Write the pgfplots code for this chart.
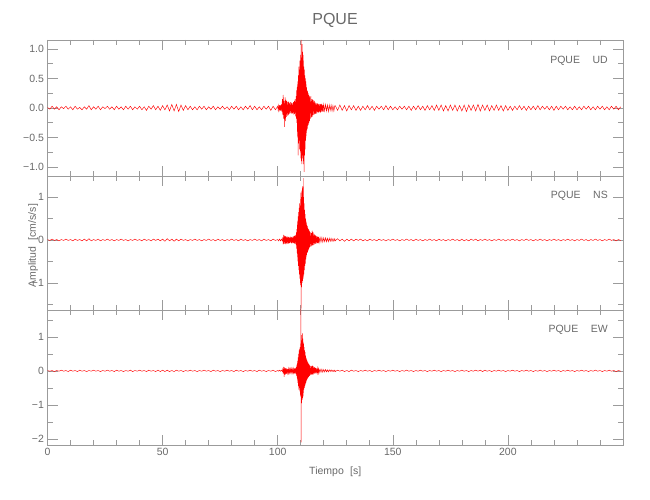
\documentclass[border=0pt]{standalone}
\usepackage{fontspec}
\setmainfont{Liberation Sans}
\usepackage{pgfplots}
\pgfplotsset{compat=1.18}
\definecolor{axgray}{RGB}{155,155,155}
\definecolor{txtgray}{RGB}{105,105,105}
\pgfplotsset{
  seis/.style={
    scale only axis, width=575.5pt, xmin=0, xmax=250,
    anchor=south west,
    axis line style={axgray, line width=0.6pt},
    tick style={axgray, line width=0.6pt},
    tick align=inside, tick pos=both,
    major tick length=10pt, minor tick length=5pt,
    xtick={0,50,...,200}, minor xtick={10,20,...,240},
    /pgf/number format/assume math mode=true,
    tick label style={font=\fontsize{10.5}{12}\selectfont, text=txtgray},
    label style={font=\fontsize{10.5}{12}\selectfont, text=txtgray},
    clip=true,
  },
  trace/.style={red, line width=0.45pt, mark=none},
}
\begin{document}
\begin{tikzpicture}
\useasboundingbox (-47.5pt,-55pt) rectangle (602.5pt,445pt);
\node[text=txtgray, font=\fontsize{16}{18}\selectfont] at (287.5pt,425pt) {PQUE};
% ---------- UD ----------
\begin{axis}[seis, at={(0pt,269pt)}, height=136pt,
  ymin=-1.15, ymax=1.15,
  ytick={-1,-0.5,0,0.5,1}, yticklabels={−1.0,−0.5,0.0,0.5,1.0},
  minor ytick={-0.75,-0.25,0.25,0.75},
  xticklabels={}]
\addplot[trace] table[row sep=\\]{x y\\
0 0.01\\ 1 -0.02\\ 2 0.03\\ 3 -0.02\\ 4 0.02\\ 5 -0.03\\ 6 0.02\\ 7 -0.01\\ 8 0.03\\ 9 -0.02\\
10 0.02\\ 11 -0.03\\ 12 0.03\\ 13 -0.02\\ 14 0.01\\ 15 -0.03\\ 16 0.02\\ 17 -0.02\\ 18 0.04\\ 19 -0.03\\
20 0.02\\ 21 -0.02\\ 22 0.03\\ 23 -0.03\\ 24 0.02\\ 25 -0.01\\ 26 0.03\\ 27 -0.02\\ 28 0.02\\ 29 -0.03\\
30 0.03\\ 31 -0.02\\ 32 0.02\\ 33 -0.03\\ 34 0.03\\ 35 -0.02\\ 36 0.03\\ 37 -0.03\\ 38 0.02\\ 39 -0.02\\
40 0.03\\ 41 -0.03\\ 42 0.02\\ 43 -0.04\\ 44 0.03\\ 45 -0.02\\ 46 0.04\\ 47 -0.03\\ 48 0.03\\ 49 -0.04\\
50 0.04\\ 51 -0.03\\ 52 0.05\\ 53 -0.05\\ 54 0.06\\ 55 -0.05\\ 56 0.06\\ 57 -0.06\\ 58 0.05\\ 59 -0.04\\
60 0.04\\ 61 -0.03\\ 62 0.03\\ 63 -0.03\\ 64 0.02\\ 65 -0.03\\ 66 0.03\\ 67 -0.02\\ 68 0.03\\ 69 -0.03\\
70 0.02\\ 71 -0.02\\ 72 0.03\\ 73 -0.03\\ 74 0.02\\ 75 -0.02\\ 76 0.03\\ 77 -0.02\\ 78 0.02\\ 79 -0.03\\
80 0.03\\ 81 -0.02\\ 82 0.03\\ 83 -0.03\\ 84 0.02\\ 85 -0.03\\ 86 0.03\\ 87 -0.02\\ 88 0.04\\ 89 -0.03\\
90 0.03\\ 91 -0.03\\ 92 0.02\\ 93 -0.03\\ 94 0.03\\ 95 -0.02\\ 96 0.03\\ 97 -0.04\\ 98 0.03\\ 99 -0.03\\
100.0 0.03\\ 100.2 -0.04\\ 100.4 0.04\\ 100.6 -0.03\\ 100.8 0.05\\ 101.0 -0.04\\ 101.2 0.05\\ 101.4 -0.05\\ 101.6 0.06\\ 101.8 -0.06\\
102.0 0.15\\ 102.2 -0.12\\ 102.4 0.22\\ 102.6 -0.18\\ 102.8 0.12\\ 103.0 -0.32\\ 103.2 0.18\\ 103.4 -0.22\\ 103.6 0.14\\ 103.8 -0.15\\
104.0 0.12\\ 104.2 -0.13\\ 104.4 0.10\\ 104.6 -0.12\\ 104.8 0.11\\ 105.0 -0.10\\ 105.2 0.08\\ 105.4 -0.09\\ 105.6 0.10\\ 105.8 -0.08\\
106.0 0.09\\ 106.2 -0.10\\ 106.4 0.08\\ 106.6 -0.09\\ 106.8 0.10\\ 107.0 -0.11\\ 107.2 0.12\\ 107.4 -0.10\\ 107.6 0.15\\ 107.8 -0.14\\
108.0 0.20\\ 108.1 -0.18\\ 108.2 0.30\\ 108.3 -0.25\\ 108.4 0.35\\ 108.5 -0.40\\ 108.6 0.45\\ 108.7 -0.50\\ 108.8 0.40\\ 108.9 -0.80\\
109.0 0.55\\ 109.1 -0.60\\ 109.2 0.70\\ 109.3 -0.55\\ 109.4 0.65\\ 109.5 -0.70\\ 109.6 0.80\\ 109.7 -0.65\\ 109.8 0.75\\ 109.9 -0.85\\
110.0 0.90\\ 110.1 -0.75\\ 110.2 1.15\\ 110.3 -0.90\\ 110.4 0.85\\ 110.5 -0.95\\ 110.6 1.08\\ 110.7 -0.80\\ 110.8 0.95\\ 110.9 -0.85\\
111.0 0.90\\ 111.1 -0.95\\ 111.2 0.80\\ 111.3 -0.90\\ 111.4 0.70\\ 111.5 -1.08\\ 111.6 0.65\\ 111.7 -0.80\\ 111.8 0.55\\ 111.9 -0.70\\
112.0 0.50\\ 112.1 -0.55\\ 112.2 0.45\\ 112.3 -0.50\\ 112.4 0.40\\ 112.5 -0.42\\ 112.6 0.35\\ 112.7 -0.38\\ 112.8 0.30\\ 112.9 -0.35\\
113.0 0.28\\ 113.1 -0.30\\ 113.2 0.25\\ 113.3 -0.28\\ 113.4 0.22\\ 113.5 -0.25\\ 113.6 0.22\\ 113.7 -0.20\\ 113.8 0.20\\ 113.9 -0.22\\
114.0 0.18\\ 114.2 -0.18\\ 114.4 0.20\\ 114.6 -0.16\\ 114.8 0.15\\ 115.0 -0.15\\ 115.2 0.14\\ 115.4 -0.12\\ 115.6 0.13\\ 115.8 -0.11\\
116.0 0.12\\ 116.2 -0.10\\ 116.4 0.09\\ 116.6 -0.10\\ 116.8 0.08\\ 117.0 -0.09\\ 117.2 0.08\\ 117.4 -0.07\\ 117.6 0.07\\ 117.8 -0.08\\
118.0 0.07\\ 118.2 -0.07\\ 118.4 0.06\\ 118.6 -0.08\\ 118.8 0.07\\ 119.0 -0.06\\ 119.2 0.07\\ 119.4 -0.06\\ 119.6 0.05\\ 119.8 -0.06\\
120.0 0.06\\ 120.4 -0.05\\ 120.8 0.06\\ 121.2 -0.05\\ 121.6 0.05\\ 122.0 -0.06\\ 122.4 0.05\\ 122.8 -0.04\\ 123.2 0.05\\ 123.6 -0.05\\
124.0 0.04\\ 124.4 -0.05\\ 124.8 0.04\\
125 0.04\\ 126 -0.04\\ 127 0.05\\ 128 -0.04\\ 129 0.04\\ 130 -0.05\\ 131 0.04\\ 132 -0.03\\ 133 0.04\\ 134 -0.04\\
135 0.03\\ 136 -0.04\\ 137 0.03\\ 138 -0.03\\ 139 0.04\\ 140 -0.03\\ 141 0.03\\ 142 -0.04\\ 143 0.03\\ 144 -0.02\\
145 0.03\\ 146 -0.03\\ 147 0.04\\ 148 -0.03\\ 149 0.03\\ 150 -0.03\\ 151 0.02\\ 152 -0.03\\ 153 0.03\\ 154 -0.02\\
155 0.03\\ 156 -0.03\\ 157 0.03\\ 158 -0.04\\ 159 0.03\\ 160 -0.03\\ 161 0.04\\ 162 -0.03\\ 163 0.03\\ 164 -0.04\\
165 0.04\\ 166 -0.03\\ 167 0.04\\ 168 -0.04\\ 169 0.05\\ 170 -0.04\\ 171 0.05\\ 172 -0.05\\ 173 0.04\\ 174 -0.05\\
175 0.05\\ 176 -0.04\\ 177 0.05\\ 178 -0.05\\ 179 0.04\\ 180 -0.05\\ 181 0.05\\ 182 -0.06\\ 183 0.05\\ 184 -0.04\\
185 0.05\\ 186 -0.05\\ 187 0.06\\ 188 -0.05\\ 189 0.05\\ 190 -0.04\\ 191 0.05\\ 192 -0.05\\ 193 0.04\\ 194 -0.04\\
195 0.05\\ 196 -0.04\\ 197 0.04\\ 198 -0.05\\ 199 0.04\\ 200 -0.04\\ 201 0.03\\ 202 -0.04\\ 203 0.03\\ 204 -0.03\\
205 0.04\\ 206 -0.03\\ 207 0.03\\ 208 -0.04\\ 209 0.03\\ 210 -0.03\\ 211 0.03\\ 212 -0.03\\ 213 0.04\\ 214 -0.03\\
215 0.03\\ 216 -0.02\\ 217 0.03\\ 218 -0.03\\ 219 0.03\\ 220 -0.04\\ 221 0.03\\ 222 -0.03\\ 223 0.03\\ 224 -0.02\\
225 0.03\\ 226 -0.03\\ 227 0.02\\ 228 -0.03\\ 229 0.03\\ 230 -0.03\\ 231 0.02\\ 232 -0.03\\ 233 0.03\\ 234 -0.02\\
235 0.03\\ 236 -0.03\\ 237 0.02\\ 238 -0.03\\ 239 0.03\\ 240 -0.02\\ 241 0.03\\ 242 -0.03\\ 243 0.02\\ 244 -0.03\\
245 0.03\\ 246 -0.02\\ 247 0.03\\ 248 -0.03\\ 249 0.02\\
};
\node[anchor=east, inner sep=0pt, text=txtgray, font=\fontsize{10.5}{12}\selectfont] at (rel axis cs:0.974,0.85) {PQUE\hspace{1.2em}UD};
\end{axis}
% ---------- NS ----------
\begin{axis}[seis, at={(0pt,135pt)}, height=134pt,
  ymin=-1.63, ymax=1.49,
  ytick={-1,0,1}, yticklabels={−1,0,1},
  minor ytick={-1.5,-0.5,0.5},
  xticklabels={},
  ylabel={Amplitud\hspace{0.6em}[cm/s/s]},
  ylabel style={at={(axis description cs:-0.025,0.48)}, anchor=center}]
\addplot[trace] table[row sep=\\]{x y\\
0 0.01\\ 1 -0.01\\ 2 0.02\\ 3 -0.01\\ 4 0.01\\ 5 -0.02\\ 6 0.01\\ 7 -0.01\\ 8 0.02\\ 9 -0.01\\
10 0.01\\ 11 -0.02\\ 12 0.02\\ 13 -0.01\\ 14 0.01\\ 15 -0.02\\ 16 0.02\\ 17 -0.02\\ 18 0.03\\ 19 -0.02\\
20 0.01\\ 21 -0.01\\ 22 0.02\\ 23 -0.02\\ 24 0.01\\ 25 -0.01\\ 26 0.02\\ 27 -0.01\\ 28 0.01\\ 29 -0.02\\
30 0.01\\ 31 -0.01\\ 32 0.02\\ 33 -0.01\\ 34 0.01\\ 35 -0.02\\ 36 0.01\\ 37 -0.01\\ 38 0.02\\ 39 -0.01\\
40 0.01\\ 41 -0.02\\ 42 0.02\\ 43 -0.01\\ 44 0.01\\ 45 -0.02\\ 46 0.02\\ 47 -0.01\\ 48 0.02\\ 49 -0.02\\
50 0.02\\ 51 -0.03\\ 52 0.03\\ 53 -0.02\\ 54 0.02\\ 55 -0.03\\ 56 0.02\\ 57 -0.02\\ 58 0.02\\ 59 -0.01\\
60 0.01\\ 61 -0.02\\ 62 0.01\\ 63 -0.01\\ 64 0.02\\ 65 -0.01\\ 66 0.01\\ 67 -0.02\\ 68 0.01\\ 69 -0.01\\
70 0.02\\ 71 -0.01\\ 72 0.01\\ 73 -0.02\\ 74 0.02\\ 75 -0.01\\ 76 0.01\\ 77 -0.02\\ 78 0.01\\ 79 -0.01\\
80 0.02\\ 81 -0.01\\ 82 0.01\\ 83 -0.02\\ 84 0.02\\ 85 -0.01\\ 86 0.01\\ 87 -0.02\\ 88 0.01\\ 89 -0.01\\
90 0.02\\ 91 -0.01\\ 92 0.01\\ 93 -0.02\\ 94 0.02\\ 95 -0.01\\ 96 0.01\\ 97 -0.02\\ 98 0.02\\ 99 -0.01\\
100.0 0.01\\ 100.4 -0.02\\ 100.8 0.02\\ 101.2 -0.02\\ 101.6 0.02\\ 102.0 -0.02\\ 102.2 0.06\\ 102.4 -0.10\\ 102.6 0.12\\ 102.8 -0.09\\
103.0 0.10\\ 103.2 -0.08\\ 103.4 0.09\\ 103.6 -0.10\\ 103.8 0.08\\ 104.0 -0.07\\ 104.2 0.08\\ 104.4 -0.09\\ 104.6 0.07\\ 104.8 -0.08\\
105.0 0.06\\ 105.2 -0.07\\ 105.4 0.08\\ 105.6 -0.06\\ 105.8 0.07\\ 106.0 -0.08\\ 106.2 0.06\\ 106.4 -0.07\\ 106.6 0.08\\ 106.8 -0.07\\
107.0 0.09\\ 107.2 -0.08\\ 107.4 0.10\\ 107.6 -0.09\\ 107.8 0.12\\ 108.0 -0.12\\
108.1 0.18\\ 108.2 -0.20\\ 108.3 0.25\\ 108.4 -0.30\\ 108.5 0.35\\ 108.6 -0.40\\ 108.7 0.45\\ 108.8 -0.50\\ 108.9 0.55\\ 109.0 -0.60\\
109.1 0.65\\ 109.2 -0.70\\ 109.3 0.75\\ 109.4 -0.80\\ 109.5 0.85\\ 109.6 -0.90\\ 109.7 0.80\\ 109.8 -1.00\\ 109.9 0.95\\ 110.0 -1.05\\
110.1 1.10\\ 110.2 -1.60\\ 110.3 1.00\\ 110.4 -1.10\\ 110.5 1.15\\ 110.6 -1.00\\ 110.7 1.25\\ 110.8 -0.95\\ 110.9 1.20\\ 111.0 -0.90\\
111.1 1.44\\ 111.2 -0.85\\ 111.3 1.00\\ 111.4 -0.80\\ 111.5 0.85\\ 111.6 -0.70\\ 111.7 0.70\\ 111.8 -0.60\\ 111.9 0.60\\ 112.0 -0.55\\
112.1 0.50\\ 112.2 -0.45\\ 112.3 0.45\\ 112.4 -0.40\\ 112.5 0.40\\ 112.6 -0.35\\ 112.7 0.35\\ 112.8 -0.30\\ 112.9 0.32\\ 113.0 -0.28\\
113.1 0.28\\ 113.2 -0.25\\ 113.3 0.25\\ 113.4 -0.22\\ 113.5 0.24\\ 113.6 -0.20\\ 113.7 0.22\\ 113.8 -0.18\\ 113.9 0.20\\ 114.0 -0.16\\
114.2 0.18\\ 114.4 -0.15\\ 114.6 0.16\\ 114.8 -0.14\\ 115.0 0.22\\ 115.2 -0.12\\ 115.4 0.18\\ 115.6 -0.12\\ 115.8 0.14\\ 116.0 -0.10\\
116.2 0.12\\ 116.4 -0.09\\ 116.6 0.10\\ 116.8 -0.08\\ 117.0 0.09\\ 117.2 -0.07\\ 117.4 0.08\\ 117.6 -0.07\\ 117.8 0.07\\ 118.0 -0.06\\
118.4 0.06\\ 118.8 -0.05\\ 119.2 0.06\\ 119.6 -0.05\\ 120.0 0.05\\ 120.4 -0.04\\ 120.8 0.05\\ 121.2 -0.04\\ 121.6 0.04\\ 122.0 -0.04\\
122.4 0.04\\ 122.8 -0.03\\ 123.2 0.04\\ 123.6 -0.03\\ 124.0 0.03\\ 124.4 -0.03\\ 124.8 0.03\\
125 -0.02\\ 126 0.03\\ 127 -0.02\\ 128 0.02\\ 129 -0.03\\ 130 0.02\\ 131 -0.02\\ 132 0.02\\ 133 -0.02\\ 134 0.02\\
135 -0.01\\ 136 0.02\\ 137 -0.02\\ 138 0.01\\ 139 -0.02\\ 140 0.02\\ 141 -0.01\\ 142 0.01\\ 143 -0.02\\ 144 0.02\\
145 -0.01\\ 146 0.01\\ 147 -0.02\\ 148 0.01\\ 149 -0.01\\ 150 0.02\\ 151 -0.01\\ 152 0.01\\ 153 -0.02\\ 154 0.01\\
155 -0.01\\ 156 0.02\\ 157 -0.01\\ 158 0.01\\ 159 -0.02\\ 160 0.02\\ 161 -0.01\\ 162 0.01\\ 163 -0.02\\ 164 0.01\\
165 -0.01\\ 166 0.02\\ 167 -0.01\\ 168 0.01\\ 169 -0.02\\ 170 0.02\\ 171 -0.01\\ 172 0.01\\ 173 -0.02\\ 174 0.01\\
175 -0.01\\ 176 0.02\\ 177 -0.01\\ 178 0.01\\ 179 -0.02\\ 180 0.02\\ 181 -0.02\\ 182 0.01\\ 183 -0.02\\ 184 0.02\\
185 -0.01\\ 186 0.02\\ 187 -0.02\\ 188 0.01\\ 189 -0.01\\ 190 0.02\\ 191 -0.01\\ 192 0.01\\ 193 -0.02\\ 194 0.01\\
195 -0.01\\ 196 0.02\\ 197 -0.01\\ 198 0.01\\ 199 -0.02\\ 200 0.01\\ 201 -0.01\\ 202 0.02\\ 203 -0.01\\ 204 0.01\\
205 -0.02\\ 206 0.01\\ 207 -0.01\\ 208 0.02\\ 209 -0.01\\ 210 0.01\\ 211 -0.02\\ 212 0.01\\ 213 -0.01\\ 214 0.02\\
215 -0.01\\ 216 0.01\\ 217 -0.02\\ 218 0.01\\ 219 -0.01\\ 220 0.02\\ 221 -0.01\\ 222 0.01\\ 223 -0.02\\ 224 0.01\\
225 -0.01\\ 226 0.02\\ 227 -0.01\\ 228 0.01\\ 229 -0.02\\ 230 0.01\\ 231 -0.01\\ 232 0.02\\ 233 -0.01\\ 234 0.01\\
235 -0.02\\ 236 0.01\\ 237 -0.01\\ 238 0.02\\ 239 -0.01\\ 240 0.01\\ 241 -0.02\\ 242 0.01\\ 243 -0.01\\ 244 0.02\\
245 -0.01\\ 246 0.01\\ 247 -0.02\\ 248 0.01\\ 249 -0.01\\
};
\node[anchor=east, inner sep=0pt, text=txtgray, font=\fontsize{10.5}{12}\selectfont] at (rel axis cs:0.974,0.85) {PQUE\hspace{1.2em}NS};
\end{axis}
% ---------- EW ----------
\begin{axis}[seis, at={(0pt,0pt)}, height=135pt,
  ymin=-2.18, ymax=1.79,
  ytick={-2,-1,0,1}, yticklabels={−2,−1,0,1},
  minor ytick={-1.5,-0.5,0.5,1.5},
  xticklabels={0,50,100,150,200},
  xlabel={Tiempo\hspace{0.6em}[s]},
  xlabel style={at={(axis description cs:0.5,0)}, anchor=center, yshift=-27pt}]
\addplot[trace] table[row sep=\\]{x y\\
0 0.01\\ 1 -0.01\\ 2 0.01\\ 3 -0.02\\ 4 0.01\\ 5 -0.01\\ 6 0.02\\ 7 -0.01\\ 8 0.01\\ 9 -0.02\\
10 0.02\\ 11 -0.01\\ 12 0.01\\ 13 -0.02\\ 14 0.02\\ 15 -0.01\\ 16 0.01\\ 17 -0.02\\ 18 0.01\\ 19 -0.01\\
20 0.02\\ 21 -0.01\\ 22 0.01\\ 23 -0.02\\ 24 0.01\\ 25 -0.01\\ 26 0.02\\ 27 -0.01\\ 28 0.01\\ 29 -0.02\\
30 0.02\\ 31 -0.01\\ 32 0.01\\ 33 -0.02\\ 34 0.01\\ 35 -0.01\\ 36 0.02\\ 37 -0.02\\ 38 0.01\\ 39 -0.01\\
40 0.02\\ 41 -0.01\\ 42 0.01\\ 43 -0.02\\ 44 0.02\\ 45 -0.01\\ 46 0.01\\ 47 -0.02\\ 48 0.02\\ 49 -0.02\\
50 0.02\\ 51 -0.02\\ 52 0.02\\ 53 -0.02\\ 54 0.01\\ 55 -0.02\\ 56 0.02\\ 57 -0.01\\ 58 0.01\\ 59 -0.02\\
60 0.01\\ 61 -0.01\\ 62 0.02\\ 63 -0.01\\ 64 0.01\\ 65 -0.02\\ 66 0.01\\ 67 -0.01\\ 68 0.02\\ 69 -0.01\\
70 0.01\\ 71 -0.02\\ 72 0.02\\ 73 -0.01\\ 74 0.01\\ 75 -0.02\\ 76 0.01\\ 77 -0.01\\ 78 0.02\\ 79 -0.01\\
80 0.01\\ 81 -0.02\\ 82 0.02\\ 83 -0.01\\ 84 0.01\\ 85 -0.02\\ 86 0.01\\ 87 -0.01\\ 88 0.02\\ 89 -0.01\\
90 0.01\\ 91 -0.02\\ 92 0.02\\ 93 -0.01\\ 94 0.01\\ 95 -0.02\\ 96 0.01\\ 97 -0.01\\ 98 0.02\\ 99 -0.02\\
100.0 0.01\\ 100.4 -0.01\\ 100.8 0.02\\ 101.2 -0.01\\ 101.6 0.02\\ 102.0 -0.02\\ 102.2 0.05\\ 102.4 -0.08\\ 102.6 0.12\\ 102.8 -0.18\\
103.0 0.10\\ 103.2 -0.12\\ 103.4 0.08\\ 103.6 -0.09\\ 103.8 0.07\\ 104.0 -0.08\\ 104.2 0.06\\ 104.4 -0.07\\ 104.6 0.06\\ 104.8 -0.06\\
105.0 0.05\\ 105.2 -0.06\\ 105.4 0.05\\ 105.6 -0.05\\ 105.8 0.06\\ 106.0 -0.05\\ 106.2 0.05\\ 106.4 -0.06\\ 106.6 0.05\\ 106.8 -0.06\\
107.0 0.06\\ 107.2 -0.07\\ 107.4 0.07\\ 107.6 -0.08\\ 107.8 0.09\\ 108.0 -0.10\\
108.1 0.12\\ 108.2 -0.15\\ 108.3 0.18\\ 108.4 -0.20\\ 108.5 0.22\\ 108.6 -0.28\\ 108.7 0.30\\ 108.8 -0.35\\ 108.9 0.40\\ 109.0 -0.45\\
109.1 0.50\\ 109.2 -0.55\\ 109.3 0.60\\ 109.4 -0.50\\ 109.5 0.65\\ 109.6 -0.60\\ 109.7 0.70\\ 109.8 -0.75\\ 109.9 0.80\\ 110.0 -0.70\\
110.1 1.90\\ 110.2 -2.10\\ 110.3 0.90\\ 110.4 -0.95\\ 110.5 1.05\\ 110.6 -0.85\\ 110.7 1.10\\ 110.8 -0.80\\ 110.9 0.95\\ 111.0 -0.75\\
111.1 0.85\\ 111.2 -0.65\\ 111.3 0.80\\ 111.4 -0.55\\ 111.5 0.70\\ 111.6 -0.50\\ 111.7 0.60\\ 111.8 -0.45\\ 111.9 0.55\\ 112.0 -0.40\\
112.1 0.45\\ 112.2 -0.35\\ 112.3 0.40\\ 112.4 -0.32\\ 112.5 0.35\\ 112.6 -0.28\\ 112.7 0.32\\ 112.8 -0.25\\ 112.9 0.28\\ 113.0 -0.22\\
113.1 0.25\\ 113.2 -0.20\\ 113.3 0.22\\ 113.4 -0.18\\ 113.5 0.20\\ 113.6 -0.16\\ 113.7 0.18\\ 113.8 -0.15\\ 113.9 0.16\\ 114.0 -0.14\\
114.2 0.15\\ 114.4 -0.12\\ 114.6 0.13\\ 114.8 -0.11\\ 115.0 0.16\\ 115.2 -0.10\\ 115.4 0.14\\ 115.6 -0.10\\ 115.8 0.11\\ 116.0 -0.08\\
116.2 0.10\\ 116.4 -0.07\\ 116.6 0.08\\ 116.8 -0.07\\ 117.0 0.07\\ 117.2 -0.06\\ 117.4 0.07\\ 117.6 -0.06\\ 117.8 0.06\\ 118.0 -0.05\\
118.4 0.05\\ 118.8 -0.04\\ 119.2 0.05\\ 119.6 -0.04\\ 120.0 0.04\\ 120.4 -0.03\\ 120.8 0.04\\ 121.2 -0.03\\ 121.6 0.03\\ 122.0 -0.03\\
122.4 0.03\\ 122.8 -0.02\\ 123.2 0.03\\ 123.6 -0.02\\ 124.0 0.02\\ 124.4 -0.02\\ 124.8 0.02\\
125 -0.02\\ 126 0.02\\ 127 -0.01\\ 128 0.02\\ 129 -0.02\\ 130 0.01\\ 131 -0.02\\ 132 0.02\\ 133 -0.01\\ 134 0.01\\
135 -0.02\\ 136 0.01\\ 137 -0.01\\ 138 0.02\\ 139 -0.01\\ 140 0.01\\ 141 -0.02\\ 142 0.01\\ 143 -0.01\\ 144 0.02\\
145 -0.01\\ 146 0.01\\ 147 -0.02\\ 148 0.01\\ 149 -0.01\\ 150 0.02\\ 151 -0.01\\ 152 0.01\\ 153 -0.02\\ 154 0.01\\
155 -0.01\\ 156 0.02\\ 157 -0.01\\ 158 0.01\\ 159 -0.02\\ 160 0.01\\ 161 -0.01\\ 162 0.02\\ 163 -0.01\\ 164 0.01\\
165 -0.02\\ 166 0.01\\ 167 -0.01\\ 168 0.02\\ 169 -0.01\\ 170 0.01\\ 171 -0.02\\ 172 0.01\\ 173 -0.01\\ 174 0.02\\
175 -0.01\\ 176 0.01\\ 177 -0.02\\ 178 0.01\\ 179 -0.01\\ 180 0.02\\ 181 -0.01\\ 182 0.01\\ 183 -0.02\\ 184 0.01\\
185 -0.01\\ 186 0.02\\ 187 -0.01\\ 188 0.02\\ 189 -0.02\\ 190 0.02\\ 191 -0.01\\ 192 0.01\\ 193 -0.02\\ 194 0.01\\
195 -0.01\\ 196 0.02\\ 197 -0.01\\ 198 0.01\\ 199 -0.02\\ 200 0.01\\ 201 -0.01\\ 202 0.02\\ 203 -0.01\\ 204 0.01\\
205 -0.02\\ 206 0.01\\ 207 -0.01\\ 208 0.02\\ 209 -0.01\\ 210 0.01\\ 211 -0.02\\ 212 0.01\\ 213 -0.01\\ 214 0.02\\
215 -0.01\\ 216 0.01\\ 217 -0.02\\ 218 0.01\\ 219 -0.01\\ 220 0.02\\ 221 -0.01\\ 222 0.01\\ 223 -0.02\\ 224 0.01\\
225 -0.01\\ 226 0.02\\ 227 -0.01\\ 228 0.01\\ 229 -0.02\\ 230 0.01\\ 231 -0.01\\ 232 0.02\\ 233 -0.01\\ 234 0.01\\
235 -0.02\\ 236 0.01\\ 237 -0.01\\ 238 0.02\\ 239 -0.01\\ 240 0.01\\ 241 -0.02\\ 242 0.01\\ 243 -0.01\\ 244 0.02\\
245 -0.01\\ 246 0.01\\ 247 -0.02\\ 248 0.01\\ 249 -0.01\\
};
\node[anchor=east, inner sep=0pt, text=txtgray, font=\fontsize{10.5}{12}\selectfont] at (rel axis cs:0.974,0.85) {PQUE\hspace{1.2em}EW};
\end{axis}
\end{tikzpicture}
\end{document}
